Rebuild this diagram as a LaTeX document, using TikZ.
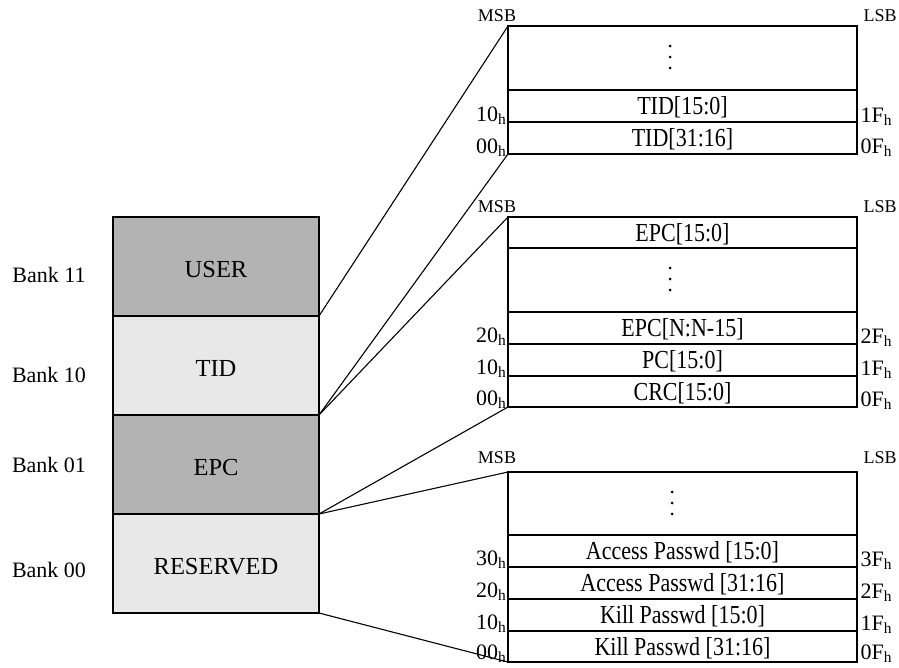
\documentclass[tikz,border=0pt]{standalone}
\usepackage{fontspec}
\usepackage{graphicx}
\setmainfont{Liberation Serif}
\definecolor{bankdark}{HTML}{B3B3B3}
\definecolor{banklight}{HTML}{E8E8E8}
% word texts in the maps are set slightly tall
\newcommand{\tallword}[1]{\scalebox{1}[1.18]{#1}}
\begin{document}
\begin{tikzpicture}[x=1pt,y=-1pt,
  line width=1.2pt,
  bankbox/.style={draw=black, minimum width=206pt, minimum height=99pt,
    inner sep=0pt, outer sep=0pt, text height=22pt, text depth=0pt,
    font=\fontsize{24.5}{28}\selectfont},
  rowbox/.style={draw=black, minimum width=349pt, minimum height=#1,
    inner sep=0pt, outer sep=0pt, text height=17.5pt, text depth=0pt,
    font=\fontsize{22}{26}\selectfont},
  banklabel/.style={anchor=base, inner sep=0pt, font=\fontsize{22}{26}\selectfont},
  addrl/.style={anchor=base east, inner sep=0pt, font=\fontsize{22}{26}\selectfont},
  addrr/.style={anchor=base west, inner sep=0pt, font=\fontsize{22}{26}\selectfont},
  bitlabel/.style={anchor=base, inner sep=0pt, font=\fontsize{18}{20}\selectfont},
  vdot/.style={circle, fill=black, inner sep=0pt, minimum size=3pt},
  link/.style={line width=1.1pt}]
\useasboundingbox (0,0) rectangle (899,667);

% memory banks
\node[bankbox, fill=bankdark]  (user) at (216,266.5) {USER};
\node[bankbox, fill=banklight] (tid)  at (216,365.5) {TID};
\node[bankbox, fill=bankdark]  (epc)  at (216,464.5) {EPC};
\node[bankbox, fill=banklight] (res)  at (216,563.5) {RESERVED};

\node[banklabel] (b11) at (49,282) {Bank 11};
\node[banklabel] (b10) at (49,382) {Bank 10};
\node[banklabel] (b01) at (49,472) {Bank 01};
\node[banklabel] (b00) at (49,577) {Bank 00};

% TID bank words
\node[rowbox=64pt] (t0) at (682.5,58) {};
\node[rowbox=32pt] (t1) at (682.5,106) {\tallword{TID[15:0]}};
\node[rowbox=32pt] (t2) at (682.5,138) {\tallword{TID[31:16]}};
\node[vdot] (td1) at (670,46) {};
\node[vdot] (td2) at (670,57) {};
\node[vdot] (td3) at (670,68) {};
\node[bitlabel] (tmsb) at (497,21) {MSB};
\node[bitlabel] (tlsb) at (880,21) {LSB};
\node[addrl] (ta1) at (507,121) {10\textsubscript{h}};
\node[addrl] (ta0) at (507,153) {00\textsubscript{h}};
\node[addrr] (tb1) at (860,122) {1F\textsubscript{h}};
\node[addrr] (tb0) at (860,153) {0F\textsubscript{h}};

% EPC bank words
\node[rowbox=31pt] (e0) at (682.5,232.5) {\tallword{EPC[15:0]}};
\node[rowbox=64pt] (e1) at (682.5,280) {};
\node[rowbox=32pt] (e2) at (682.5,328) {\tallword{EPC[N:N-15]}};
\node[rowbox=32pt] (e3) at (682.5,360) {\tallword{PC[15:0]}};
\node[rowbox=31pt] (e4) at (682.5,391.5) {\tallword{CRC[15:0]}};
\node[vdot] (ed1) at (670,268) {};
\node[vdot] (ed2) at (670,279) {};
\node[vdot] (ed3) at (670,290) {};
\node[bitlabel] (emsb) at (497,212) {MSB};
\node[bitlabel] (elsb) at (880,212) {LSB};
\node[addrl] (ea2) at (507,342) {20\textsubscript{h}};
\node[addrl] (ea1) at (507,374) {10\textsubscript{h}};
\node[addrl] (ea0) at (507,405) {00\textsubscript{h}};
\node[addrr] (eb2) at (860,343) {2F\textsubscript{h}};
\node[addrr] (eb1) at (860,375) {1F\textsubscript{h}};
\node[addrr] (eb0) at (860,406) {0F\textsubscript{h}};

% RESERVED bank words
\node[rowbox=63pt] (r0) at (682.5,503.5) {};
\node[rowbox=32pt] (r1) at (682.5,551) {\tallword{Access Passwd [15:0]}};
\node[rowbox=32pt] (r2) at (682.5,583) {\tallword{Access Passwd [31:16]}};
\node[rowbox=32pt] (r3) at (682.5,615) {\tallword{Kill Passwd [15:0]}};
\node[rowbox=31pt] (r4) at (682.5,646.5) {\tallword{Kill Passwd [31:16]}};
\node[vdot] (rd1) at (672,492) {};
\node[vdot] (rd2) at (672,503) {};
\node[vdot] (rd3) at (672,514) {};
\node[bitlabel] (rmsb) at (497,463) {MSB};
\node[bitlabel] (rlsb) at (880,463) {LSB};
\node[addrl] (ra3) at (507,565) {30\textsubscript{h}};
\node[addrl] (ra2) at (507,597) {20\textsubscript{h}};
\node[addrl] (ra1) at (507,629) {10\textsubscript{h}};
\node[addrl] (ra0) at (507,659) {00\textsubscript{h}};
\node[addrr] (rb3) at (860,566) {3F\textsubscript{h}};
\node[addrr] (rb2) at (860,598) {2F\textsubscript{h}};
\node[addrr] (rb1) at (860,630) {1F\textsubscript{h}};
\node[addrr] (rb0) at (860,659) {0F\textsubscript{h}};

% expansion lines from each bank to its word map
\draw[link] (tid.north east) -- (t0.north west);
\draw[link] (tid.south east) -- (t2.south west);
\draw[link] (epc.north east) -- (e0.north west);
\draw[link] (epc.south east) -- (e4.south west);
\draw[link] (res.north east) -- (r0.north west);
\draw[link] (res.south east) -- (r4.south west);
\end{tikzpicture}
\end{document}
